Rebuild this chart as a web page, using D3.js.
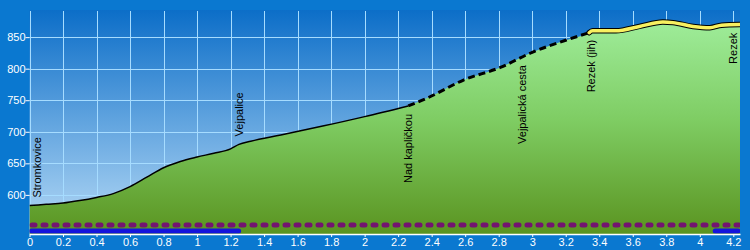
<!DOCTYPE html>
<meta charset="utf-8">
<style>
  body { margin: 0; background: #0a78d0; }
  text { font-family: "Liberation Sans", Arial, sans-serif; }
</style>
<body></body>
<script src="https://cdn.jsdelivr.net/npm/d3@7"></script>
<script>

var width = 750,
    height = 250;

// profile (km, m) split by line style
var solidKm = [0, 0.1, 0.2, 0.3, 0.4, 0.5, 0.6, 0.7, 0.8, 0.9, 1.0, 1.1, 1.2, 1.25, 1.32, 1.5, 1.75, 2.0, 2.26];
var solidEle = [583, 585, 587, 591, 596, 602, 613, 628, 643, 653, 660, 666, 673, 680, 685, 695, 709, 724, 741];
var dashKm = [2.26, 2.37, 2.59, 2.81, 3.0, 3.2, 3.34];
var dashEle = [741, 753, 782, 802, 826, 845, 857];
var yellowKm = [3.34, 3.36, 3.5, 3.64, 3.78, 3.84, 3.96, 4.06, 4.13, 4.24];
var yellowEle = [857, 860, 860, 867, 874, 873, 867, 865, 869, 870];

var stations = ["Stromkovice", "Vejpalice", "Nad kapličkou", "Vejpalická cesta", "Rezek (jih)", "Rezek"];
var stationKm = [0, 1.25, 2.26, 2.94, 3.35, 4.2];
var stationSide = ["above", "above", "below", "below", "below", "below"];

var purpleBars = [[0, 4.24]];
var blueBars = [[0, 1.26], [4.08, 4.24]];

var xTicks = d3.range(0, 4.21, 0.2);
var yTicks = [600, 650, 700, 750, 800, 850];

var pLeft = 29.5, pRight = 740, pTop = 10, pBottom = 234;

var x = d3.scaleLinear().domain([0, 4.24]).range([pLeft, pRight]),
    y = d3.scaleLinear().domain([538, 893]).range([pBottom, pTop]);

function pts(km, ele) { return km.map(function(d, i) { return [d, ele[i]]; }); }
var solid = pts(solidKm, solidEle),
    dashed = pts(dashKm, dashEle),
    yellow = pts(yellowKm, yellowEle),
    all = solid.concat(dashed.slice(1), yellow.slice(1));

function eleAt(km) {
  for (var i = 1; i < all.length; i++) {
    if (km <= all[i][0]) {
      var a = all[i - 1], b = all[i], t = (km - a[0]) / (b[0] - a[0]);
      return a[1] + t * (b[1] - a[1]);
    }
  }
  return all[all.length - 1][1];
}

var svg = d3.select("body").append("svg")
    .attr("width", width)
    .attr("height", height)
    .style("display", "block");

var defs = svg.append("defs");
var sky = defs.append("linearGradient").attr("id", "sky")
    .attr("gradientUnits", "userSpaceOnUse")
    .attr("x1", 0).attr("y1", pTop).attr("x2", 0).attr("y2", pBottom);
sky.append("stop").attr("offset", 0).attr("stop-color", "#0c6ec8");
sky.append("stop").attr("offset", 1).attr("stop-color", "#b6daf6");

var ground = defs.append("linearGradient").attr("id", "ground")
    .attr("gradientUnits", "userSpaceOnUse")
    .attr("x1", 0).attr("y1", pTop).attr("x2", 0).attr("y2", pBottom);
ground.append("stop").attr("offset", 0).attr("stop-color", "#a2f0a0");
ground.append("stop").attr("offset", 0.5).attr("stop-color", "#7ecc62");
ground.append("stop").attr("offset", 1).attr("stop-color", "#5a9420");

defs.append("clipPath").attr("id", "plot")
  .append("rect").attr("x", pLeft).attr("y", pTop)
    .attr("width", pRight - pLeft).attr("height", pBottom - pTop);

svg.append("rect")
    .attr("x", pLeft).attr("y", pTop)
    .attr("width", pRight - pLeft).attr("height", pBottom - pTop)
    .attr("fill", "url(#sky)");

// grid
var grid = svg.append("g").attr("stroke", "#a6dcff").attr("stroke-width", 1);
grid.selectAll("line.v").data(xTicks).enter().append("line")
    .attr("x1", function(d) { return Math.round(x(d)) + 0.5; })
    .attr("x2", function(d) { return Math.round(x(d)) + 0.5; })
    .attr("y1", pTop + 1).attr("y2", pBottom);
grid.selectAll("line.h").data(yTicks).enter().append("line")
    .attr("x1", pLeft).attr("x2", pRight)
    .attr("y1", function(d) { return Math.round(y(d)) + 0.5; })
    .attr("y2", function(d) { return Math.round(y(d)) + 0.5; });

var plot = svg.append("g").attr("clip-path", "url(#plot)");

plot.append("path")
    .datum(all)
    .attr("fill", "url(#ground)")
    .attr("d", d3.area()
        .curve(d3.curveMonotoneX)
        .x(function(d) { return x(d[0]); })
        .y0(pBottom)
        .y1(function(d) { return y(d[1]); }));

var line = d3.line()
    .curve(d3.curveMonotoneX)
    .x(function(d) { return x(d[0]); })
    .y(function(d) { return y(d[1]); });

plot.append("path").datum(solid)
    .attr("fill", "none").attr("stroke", "#000").attr("stroke-width", 1.5)
    .attr("d", line);
plot.append("path").datum(dashed)
    .attr("fill", "none").attr("stroke", "#000").attr("stroke-width", 3)
    .attr("stroke-dasharray", "7 4")
    .attr("d", line);
plot.append("path").datum(yellow)
    .attr("fill", "none").attr("stroke", "#000").attr("stroke-width", 5.5)
    .attr("stroke-linecap", "round").attr("stroke-linejoin", "round")
    .attr("d", line);
plot.append("path").datum(yellow)
    .attr("fill", "none").attr("stroke", "#f8f060").attr("stroke-width", 3.5)
    .attr("stroke-linecap", "round").attr("stroke-linejoin", "round")
    .attr("d", line);

// bars at the bottom
plot.selectAll("line.purple").data(purpleBars).enter().append("line")
    .attr("x1", function(d) { return x(d[0]) + 2.5; })
    .attr("x2", function(d) { return x(d[1]); })
    .attr("y1", 225).attr("y2", 225)
    .attr("stroke", "#731470").attr("stroke-width", 5)
    .attr("stroke-linecap", "round")
    .attr("stroke-dasharray", "3 8");
plot.selectAll("line.blue").data(blueBars).enter().append("line")
    .attr("x1", function(d) { return x(d[0]) + 2; })
    .attr("x2", function(d) { return x(d[1]) - 2; })
    .attr("y1", 231).attr("y2", 231)
    .attr("stroke", "#1414dc").attr("stroke-width", 5)
    .attr("stroke-linecap", "round");

// station labels
svg.selectAll("text.station").data(stations).enter().append("text")
    .attr("font-size", 11)
    .attr("fill", "#000")
    .attr("dy", "0.35em")
    .attr("text-anchor", function(d, i) { return stationSide[i] == "above" ? "start" : "end"; })
    .attr("transform", function(d, i) {
      var px = Math.max(x(stationKm[i]), pLeft + 8),
          py = y(eleAt(stationKm[i])) + (stationSide[i] == "above" ? -8 : 8);
      return "translate(" + px + "," + py + ") rotate(-90)";
    })
    .text(function(d) { return d; });

// axes
var xAxis = svg.append("g")
    .attr("transform", "translate(0," + pBottom + ")")
    .call(d3.axisBottom(x).tickValues(xTicks).tickSize(3).tickSizeOuter(0)
        .tickFormat(d3.format("~g")));
var yAxis = svg.append("g")
    .attr("transform", "translate(" + pLeft + ",0)")
    .call(d3.axisLeft(y).tickValues(yTicks).tickSize(4).tickSizeOuter(0));

[xAxis, yAxis].forEach(function(g) {
  g.selectAll("text").attr("fill", "#fff").attr("font-size", 11)
      .attr("font-family", "'Liberation Sans', Arial, sans-serif");
  g.selectAll("line").attr("stroke", "#fff");
});
xAxis.select(".domain").attr("stroke", "#fff").attr("stroke-width", 1.5);
yAxis.select(".domain").remove();
xAxis.selectAll("text").attr("dy", "0.5em");
yAxis.selectAll("text").attr("x", -4);

</script>
